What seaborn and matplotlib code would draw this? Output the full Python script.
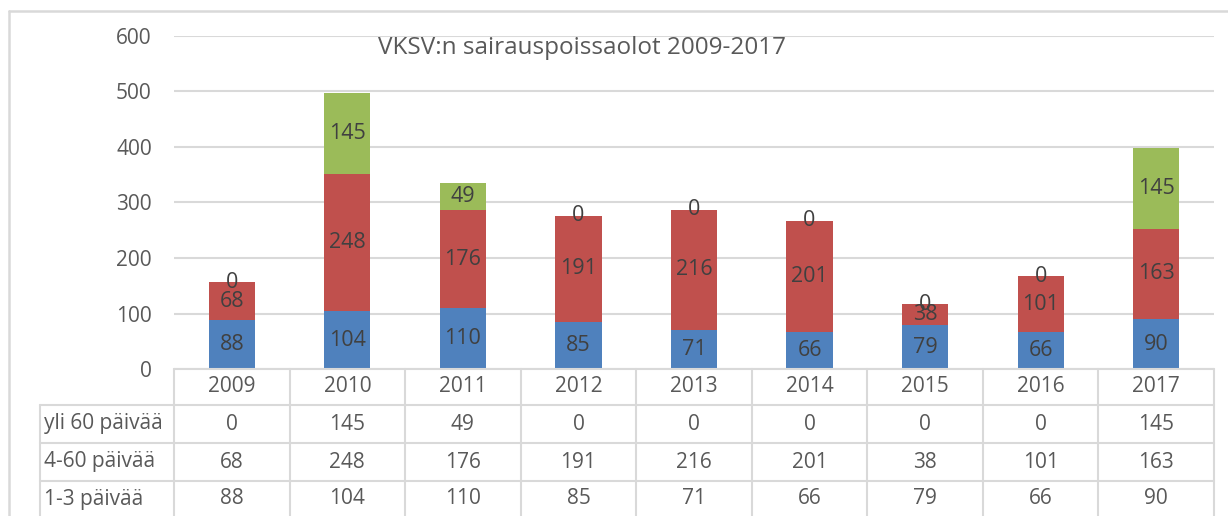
import numpy as np
import pandas as pd
import seaborn as sns
import matplotlib.pyplot as plt
from matplotlib.transforms import blended_transform_factory
from matplotlib.lines import Line2D

years = ['2009', '2010', '2011', '2012', '2013', '2014', '2015', '2016', '2017']
short = [88, 104, 110, 85, 71, 66, 79, 66, 90]       # 1-3 päivää
mid = [68, 248, 176, 191, 216, 201, 38, 101, 163]    # 4-60 päivää
long_ = [0, 145, 49, 0, 0, 0, 0, 0, 145]             # yli 60 päivää
series_names = ['1-3 päivää', '4-60 päivää', 'yli 60 päivää']
title = 'VKSV:n sairauspoissaolot 2009-2017'

colors = ['#4F81BD', '#C0504D', '#9BBB59']
txt = '#595959'
line_c = '#D9D9D9'

sns.set_style('white')
plt.rcParams['font.family'] = ['Open Sans', 'DejaVu Sans']

W, H = 1228, 516
fig = plt.figure(figsize=(W / 100, H / 100), dpi=100)
# plot area in pixels: x 174..1214, y 36..369
ax = fig.add_axes([174 / W, (H - 369) / H, (1214 - 174) / W, (369 - 36) / H])

df = pd.DataFrame({'year': years, 's': short, 'm': mid, 'l': long_})
bottoms = [np.zeros(len(years)), np.array(short), np.array(short) + np.array(mid)]
for col, c, b in zip(['s', 'm', 'l'], colors, bottoms):
    sns.barplot(data=df, x='year', y=col, color=c, bottom=b, width=0.4,
                saturation=1, ax=ax, edgecolor='none', linewidth=0)

for cont, vals in zip(ax.containers, [short, mid, long_]):
    ax.bar_label(cont, labels=[str(v) for v in vals], label_type='center',
                 fontsize=15.5, color='#404040')

ax.set_ylim(0, 600)
ax.set_xlim(-0.5, len(years) - 0.5)
ax.set_yticks(range(0, 601, 100))
ax.yaxis.grid(True, color=line_c, linewidth=1.5)
ax.set_axisbelow(True)
for s in ax.spines.values():
    s.set_visible(False)
ax.tick_params(axis='y', length=0, pad=16, labelsize=15, labelcolor=txt)
ax.tick_params(axis='x', length=0, labelbottom=False)
ax.set_xlabel('')
ax.set_ylabel('')

fig.text(378 / W, 1 - 48 / H, title, fontsize=17.5, color=txt, ha='left', va='center')

# data table under the plot
tr = blended_transform_factory(ax.transData, fig.transFigure)
def fy(p):
    return 1 - p / H

row_centers = [424, 462, 499]
row_vals = [long_, mid, short]
row_names = [series_names[2], series_names[1], series_names[0]]
for i, y in enumerate(years):
    ax.text(i, fy(386), y, transform=tr, ha='center', va='center',
            fontsize=15, color=txt, clip_on=False)
    for rc, vals in zip(row_centers, row_vals):
        ax.text(i, fy(rc), str(vals[i]), transform=tr, ha='center', va='center',
                fontsize=15, color=txt, clip_on=False)
for rc, name in zip(row_centers, row_names):
    fig.text(44 / W, fy(rc), name, ha='left', va='center', fontsize=15, color=txt)

for k in range(len(years) + 1):
    ax.add_line(Line2D([k - 0.5, k - 0.5], [fy(369), fy(516)], transform=tr,
                       color=line_c, linewidth=1.5, clip_on=False))
ax.add_line(Line2D([-0.5, len(years) - 0.5], [fy(369), fy(369)], transform=tr,
                   color=line_c, linewidth=1.5, clip_on=False))
for yy in [405, 443, 481]:
    fig.add_artist(Line2D([40 / W, 1214 / W], [fy(yy), fy(yy)], color=line_c, linewidth=1.5))
fig.add_artist(Line2D([40 / W, 40 / W], [fy(405), fy(516)], color=line_c, linewidth=1.5))

# chart area border
fig.add_artist(Line2D([9 / W, 1], [fy(11), fy(11)], color=line_c, linewidth=1.8))
fig.add_artist(Line2D([9 / W, 9 / W], [fy(11), 0], color=line_c, linewidth=1.8))

fig.savefig('out.png', dpi=100)
